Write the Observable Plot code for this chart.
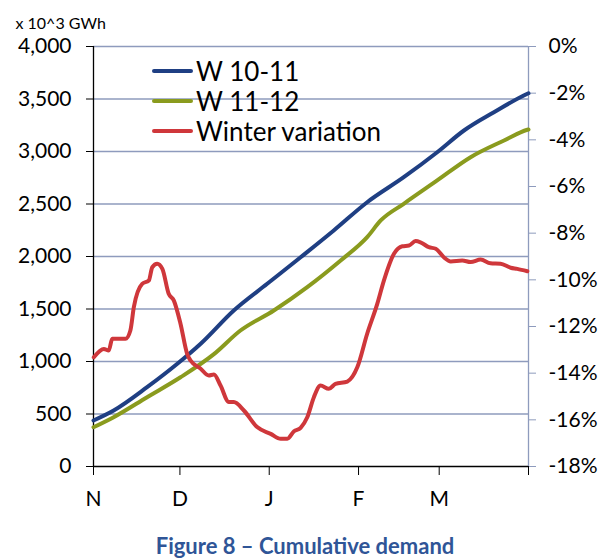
<!DOCTYPE html>
<html>
<head>
<meta charset="utf-8">
<script src="https://cdn.jsdelivr.net/npm/d3@7"></script>
<script src="https://cdn.jsdelivr.net/npm/@observablehq/plot@0.6"></script>
<style>
  html, body { margin: 0; padding: 0; background: #fff; }
  body { width: 607px; height: 558px; overflow: hidden; font-family: Lato, "Open Sans", sans-serif; }
  #wrap { position: relative; width: 607px; }
  #legend { position: absolute; left: 152px; top: 56px; font-size: 26px; color: #000; }
  .row { display: flex; align-items: center; height: 30px; }
  .sw { width: 41px; height: 4px; border-radius: 2px; margin-right: 3px; }
  #caption { text-align: center; font-weight: bold; color: #2f5597; font-size: 22px; line-height: 24px; padding-top: 14px; width: 610px; }
</style>
</head>
<body>
<div id="wrap">
  <div id="chart"></div>
  <div id="legend"></div>
  <div id="caption">Figure 8 – Cumulative demand</div>
</div>
<script>
// Month ticks (day index from 1 Nov) and labels
const monthTicks = [0, 30, 61, 92, 120, 151];
const monthLabels = ["N", "D", "J", "F", "M", ""];

// Left axis ticks (x 10^3 GWh)
const leftTicks = [0, 500, 1000, 1500, 2000, 2500, 3000, 3500, 4000];
// Right axis ticks (%)
const rightTicks = [0, -2, -4, -6, -8, -10, -12, -14, -16, -18];

// W 10-11 cumulative demand
const w1011Days = [0, 7, 18.6, 29.1, 37.2, 48.7, 60.3, 71.9, 83.4, 95, 107.7, 119.3, 128.6, 139, 150.6, 151];
const w1011Vals = [438, 533, 755, 978, 1169, 1486, 1740, 1993, 2248, 2517, 2755, 2993, 3200, 3374, 3550, 3555];

// W 11-12 cumulative demand
const w1112Days = [0, 7, 18.6, 30.2, 41.8, 51, 62.6, 74.2, 85.8, 95, 99.7, 107.7, 119.3, 130.9, 142.5, 150.6, 151];
const w1112Vals = [374, 470, 660, 850, 1070, 1295, 1486, 1708, 1962, 2184, 2343, 2502, 2724, 2946, 3105, 3207, 3210];

// Winter variation (%)
const varDays = [0.1, 3.6, 5.3, 6.5, 11.1, 12.8, 14.0, 16.9, 19.2, 20.4, 22.1, 23.9, 26.1, 27.9, 30.2, 32.5, 33.7, 37.2, 40.0, 41.8, 44.1, 47.0, 48.7, 52.2, 56.8, 61.5, 65, 67.3, 69.6, 71.9, 74.2, 76.5, 78.8, 81.7, 84.0, 88.1, 91.6, 95.0, 98.5, 100.8, 104.3, 107.2, 109.5, 111.8, 113.5, 116.4, 118.8, 121.6, 124.0, 128.0, 130.9, 134.4, 137.8, 141.3, 144.8, 147.1, 150.6];
const varPct = [-13.32, -12.96, -13.03, -12.53, -12.53, -12.17, -11.17, -10.17, -10.03, -9.46, -9.31, -9.53, -10.6, -10.89, -11.88, -13.17, -13.46, -13.81, -14.1, -14.06, -14.53, -15.24, -15.24, -15.6, -16.31, -16.6, -16.81, -16.81, -16.49, -16.34, -15.89, -15.03, -14.53, -14.67, -14.46, -14.36, -13.74, -12.31, -11.03, -10.03, -8.88, -8.56, -8.53, -8.34, -8.39, -8.6, -8.67, -9.03, -9.21, -9.17, -9.24, -9.13, -9.29, -9.31, -9.48, -9.53, -9.63];

const series = [
  {name: "W 10-11", color: "#1f3f83"},
  {name: "W 11-12", color: "#8a9b1e"},
  {name: "Winter variation", color: "#cf373b"}
];

// map right-axis percent onto left-axis units (0% -> 4000, -18% -> 0)
const pctToY = p => (p + 18) / 18 * 4000;

const d1 = w1011Days.map((d, i) => ({day: d, v: w1011Vals[i]}));
const d2 = w1112Days.map((d, i) => ({day: d, v: w1112Vals[i]}));
const d3v = varDays.map((d, i) => ({day: d, v: pctToY(varPct[i])}));

const grid = "#8e9bbd";

const chart = Plot.plot({
  width: 607,
  height: 520,
  marginTop: 46,
  marginBottom: 54,
  marginLeft: 93,
  marginRight: 79,
  style: {fontFamily: "Lato, 'Open Sans', sans-serif", fontSize: "21px", color: "#000", background: "#fff"},
  x: {domain: [0, 151], axis: null},
  y: {domain: [0, 4000], axis: null},
  marks: [
    Plot.ruleY(leftTicks.filter(t => t > 0), {y: d => d, stroke: grid, strokeWidth: 1.3}),
    Plot.ruleX([151], {stroke: grid, strokeWidth: 1.3}),
    Plot.axisY({anchor: "left", label: null, ticks: leftTicks, tickFormat: d3.format(","), tickSize: 7, tickPadding: 15, fontSize: 21, stroke: "#000", fill: "#000"}),
    Plot.axisY({anchor: "right", label: null, ticks: rightTicks.map(pctToY), tickFormat: v => `${Math.round(v / 4000 * 18 - 18)}%`, tickSize: 7, tickPadding: 13, fontSize: 21, stroke: grid, fill: "#000"}),
    Plot.axisX({anchor: "bottom", label: null, ticks: monthTicks, tickFormat: (d) => monthLabels[monthTicks.indexOf(d)], tickSize: 9, tickPadding: 16, fontSize: 21, stroke: "#000", fill: "#000"}),
    Plot.ruleX([0], {stroke: "#000", strokeWidth: 1.3}),
    Plot.ruleY([0], {stroke: "#000", strokeWidth: 1.3}),
    Plot.line(d1, {x: "day", y: "v", stroke: series[0].color, strokeWidth: 4, curve: "monotone-x"}),
    Plot.line(d2, {x: "day", y: "v", stroke: series[1].color, strokeWidth: 4, curve: "monotone-x"}),
    Plot.line(d3v, {x: "day", y: "v", stroke: series[2].color, strokeWidth: 4, curve: "monotone-x"}),
    Plot.text(["x 10^3 GWh"], {frameAnchor: "top-left", dx: -78, dy: -29, textAnchor: "start", fontSize: 16, fill: "#000"})
  ]
});
document.getElementById("chart").appendChild(chart);

const legend = document.getElementById("legend");
for (const s of series) {
  const row = document.createElement("div");
  row.className = "row";
  const sw = document.createElement("div");
  sw.className = "sw";
  sw.style.background = s.color;
  const t = document.createElement("span");
  t.textContent = s.name;
  row.appendChild(sw);
  row.appendChild(t);
  legend.appendChild(row);
}
</script>
</body>
</html>
